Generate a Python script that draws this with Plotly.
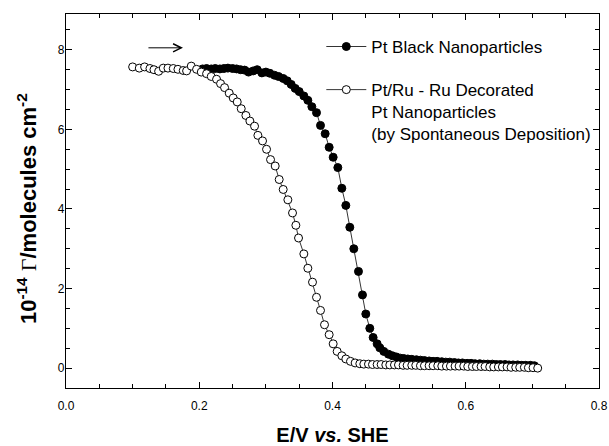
import plotly.graph_objects as go

# Pt Black Nanoparticles (filled circles)
pt_black_E = [0.205, 0.211, 0.218, 0.224, 0.231, 0.237, 0.243, 0.250, 0.256, 0.262,
              0.268, 0.274, 0.281, 0.287, 0.294, 0.300, 0.306, 0.313, 0.319, 0.326,
              0.332, 0.338, 0.344, 0.350, 0.357, 0.363, 0.369, 0.376, 0.382, 0.389,
              0.395, 0.401, 0.408, 0.414, 0.420, 0.426, 0.432, 0.439, 0.445, 0.450,
              0.456, 0.461, 0.467, 0.471, 0.477, 0.484, 0.490, 0.496,
              0.502, 0.507, 0.513, 0.519, 0.526, 0.532, 0.538, 0.545, 0.551, 0.557,
              0.564, 0.570, 0.576, 0.583, 0.589, 0.595, 0.602, 0.608, 0.614, 0.621,
              0.627, 0.633, 0.640, 0.646, 0.652, 0.659, 0.665, 0.671, 0.678, 0.684,
              0.690, 0.697, 0.703]
pt_black_G = [7.52, 7.53, 7.52, 7.53, 7.52, 7.53, 7.54, 7.53, 7.52, 7.50,
              7.49, 7.44, 7.47, 7.50, 7.42, 7.44, 7.41, 7.36, 7.33, 7.28,
              7.22, 7.13, 7.03, 6.95, 6.84, 6.73, 6.57, 6.42, 6.10, 5.89,
              5.55, 5.30, 5.04, 4.52, 4.09, 3.54, 3.00, 2.43, 1.84, 1.36,
              1.00, 0.77, 0.61, 0.51, 0.42, 0.35, 0.31, 0.28,
              0.25, 0.24, 0.23, 0.22, 0.21, 0.20, 0.19, 0.18, 0.17, 0.17,
              0.16, 0.15, 0.15, 0.14, 0.13, 0.13, 0.12, 0.12, 0.11, 0.11,
              0.10, 0.10, 0.10, 0.09, 0.09, 0.09, 0.08, 0.08, 0.08, 0.07,
              0.07, 0.07, 0.06]

# Pt/Ru - Ru decorated Pt nanoparticles (open circles)
ptru_E = [0.100, 0.110, 0.118, 0.126, 0.132, 0.139, 0.146, 0.153, 0.161, 0.168,
          0.176, 0.181, 0.188, 0.196, 0.203, 0.211, 0.218, 0.226, 0.232, 0.238,
          0.245, 0.251, 0.257, 0.263, 0.270, 0.276, 0.283, 0.288, 0.295, 0.301,
          0.307, 0.314, 0.320, 0.326, 0.333, 0.340, 0.345, 0.349, 0.357, 0.363,
          0.370, 0.376, 0.382, 0.388, 0.395, 0.401, 0.407, 0.414, 0.420, 0.427,
          0.434, 0.441,
          0.447, 0.454, 0.460, 0.467, 0.473, 0.480, 0.486, 0.493, 0.499, 0.506,
          0.512, 0.519, 0.525, 0.532, 0.538, 0.545, 0.551, 0.558, 0.564, 0.571,
          0.577, 0.584, 0.590, 0.597, 0.603, 0.610, 0.616, 0.623, 0.629, 0.636,
          0.642, 0.649, 0.655, 0.662, 0.668, 0.675, 0.681, 0.688, 0.694, 0.701,
          0.708]
ptru_G = [7.57, 7.54, 7.57, 7.53, 7.50, 7.46, 7.54, 7.54, 7.53, 7.51,
          7.48, 7.47, 7.59, 7.51, 7.44, 7.40, 7.33, 7.26, 7.15, 7.05,
          6.91, 6.79, 6.69, 6.52, 6.35, 6.21, 6.08, 5.85, 5.71, 5.50,
          5.24, 5.08, 4.74, 4.49, 4.23, 3.90, 3.59, 3.27, 2.87, 2.51,
          2.16, 1.78, 1.45, 1.09, 0.84, 0.61, 0.42, 0.31, 0.23, 0.17,
          0.13, 0.11,
          0.10, 0.10, 0.09, 0.09, 0.09, 0.08, 0.08, 0.08, 0.08, 0.07,
          0.07, 0.07, 0.07, 0.06, 0.06, 0.06, 0.06, 0.06, 0.05, 0.05,
          0.05, 0.05, 0.05, 0.05, 0.04, 0.04, 0.04, 0.04, 0.04, 0.03,
          0.03, 0.03, 0.03, 0.03, 0.02, 0.02, 0.02, 0.02, 0.01, 0.01,
          0.00]

names = ["Pt Black Nanoparticles",
         "Pt/Ru - Ru Decorated<br>Pt Nanoparticles<br>(by Spontaneous Deposition)"]

x_title = "<b>E/V <i>vs.</i> SHE</b>"
y_title = ("<b>10<sup>-14</sup> </b><span style='font-family:Liberation Serif'>Γ</span>"
           "<b>/molecules cm<sup>-2</sup></b>")

# scan direction arrow (start, end) in data units
arrow_E = [0.1215, 0.1756]
arrow_G = 8.05

FONT = "Liberation Sans, Arial, sans-serif"

fig = go.Figure()
fig.add_trace(go.Scatter(
    x=pt_black_E, y=pt_black_G, mode="lines+markers", name=names[0],
    legendgroup="a",
    line=dict(color="black", width=0.8),
    marker=dict(symbol="circle", size=8, color="black",
                line=dict(color="black", width=1))))
fig.add_trace(go.Scatter(
    x=ptru_E, y=ptru_G, mode="lines+markers", name=names[1],
    legendgroup="b",
    line=dict(color="black", width=0.8),
    marker=dict(symbol="circle", size=8, color="white",
                line=dict(color="black", width=1))))

fig.add_annotation(x=arrow_E[1], y=arrow_G, ax=arrow_E[0], ay=arrow_G,
                   xref="x", yref="y", axref="x", ayref="y",
                   text="", showarrow=True, arrowhead=5, arrowsize=1.6,
                   arrowwidth=1, arrowcolor="black")

# y-axis title as rotated annotation
fig.add_annotation(x=-0.072, y=0.48, xref="paper", yref="paper",
                   xanchor="center", yanchor="middle", textangle=-90,
                   showarrow=False, text=y_title,
                   font=dict(family=FONT, size=22, color="black"))

axis_common = dict(showline=True, linecolor="black", linewidth=1.3,
                   mirror="ticks", ticks="inside", ticklen=6, tickwidth=1,
                   tickcolor="black", showgrid=False, zeroline=False,
                   automargin=False,
                   tickfont=dict(family=FONT, size=12, color="black"))

fig.update_xaxes(range=[0.0, 0.8], dtick=0.2, tickformat=".1f",
                 minor=dict(dtick=0.05, ticks="inside", ticklen=3.5,
                            tickcolor="black", tickwidth=1),
                 ticklabelstandoff=6,
                 title=dict(text=x_title, standoff=16,
                            font=dict(family=FONT, size=20, color="black")),
                 **axis_common)
fig.update_yaxes(range=[-0.5, 8.9], dtick=2, tickformat="d",
                 minor=dict(dtick=0.5, ticks="inside", ticklen=3.5,
                            tickcolor="black", tickwidth=1),
                 ticklabelstandoff=-2,
                 **axis_common)

fig.update_layout(
    width=609, height=446,
    margin=dict(l=66, r=10, t=14, b=58),
    paper_bgcolor="white", plot_bgcolor="white",
    font=dict(family=FONT, color="black"),
    showlegend=True,
    legend=dict(x=0.479, y=0.96, xanchor="left", yanchor="top",
                bgcolor="rgba(0,0,0,0)", borderwidth=0,
                font=dict(family=FONT, size=17, color="black"),
                itemwidth=40, valign="top", tracegroupgap=18,
                traceorder="grouped"),
)

fig.write_html("out.html", config={"displayModeBar": False},
               post_script="document.body.style.margin='0';document.body.style.padding='0';document.body.style.overflow='hidden';")
